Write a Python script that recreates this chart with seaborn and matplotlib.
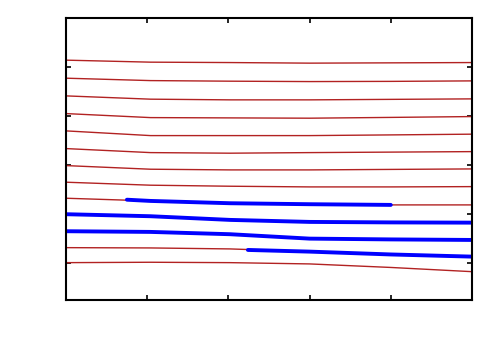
import numpy as np
import pandas as pd
import seaborn as sns
import matplotlib
matplotlib.use("Agg")
import matplotlib.pyplot as plt

# x positions where curves were read
x_read = [0.0, 1.04, 2.02, 3.0, 4.0, 5.0]

# thin red curves (top to bottom)
red_1 = [4.137, 4.096, 4.088, 4.076, 4.082, 4.088]
red_2 = [3.769, 3.720, 3.708, 3.700, 3.704, 3.714]
red_3 = [3.408, 3.341, 3.327, 3.327, 3.337, 3.347]
red_4 = [3.047, 2.965, 2.959, 2.953, 2.969, 2.986]
red_5 = [2.694, 2.598, 2.598, 2.598, 2.612, 2.627]
red_6 = [2.333, 2.251, 2.239, 2.251, 2.261, 2.271]
red_7 = [1.986, 1.912, 1.898, 1.898, 1.908, 1.918]
red_8 = [1.647, 1.586, 1.565, 1.551, 1.551, 1.557]
red_9 = [1.320, 1.265, 1.218, 1.198, 1.184, 1.184]
red_10 = [0.994, 0.953, 0.878, 0.837, 0.827, 0.822]
red_11 = [0.647, 0.633, 0.586, 0.496, 0.480, 0.469]
red_12 = [0.312, 0.306, 0.286, 0.231, 0.173, 0.129]
red_13 = [0.006, 0.014, 0.006, -0.020, -0.092, -0.178]

# thick blue segments
blue_a_x = [0.75, 1.04, 2.02, 3.0, 4.0]
blue_a_y = [1.290, 1.265, 1.218, 1.198, 1.184]
blue_b_x = [0.0, 1.04, 2.02, 3.0, 4.0, 5.0]
blue_b_y = [0.994, 0.953, 0.878, 0.837, 0.827, 0.822]
blue_c_x = [0.0, 1.04, 2.02, 3.0, 4.0, 5.0]
blue_c_y = [0.647, 0.633, 0.586, 0.496, 0.480, 0.469]
blue_d_x = [2.24, 3.0, 4.0, 5.0]
blue_d_y = [0.265, 0.231, 0.173, 0.129]

x_ticks = [1, 2, 3, 4]
y_ticks = [0, 1, 2, 3, 4]

reds = [red_1, red_2, red_3, red_4, red_5, red_6, red_7, red_8, red_9,
        red_10, red_11, red_12, red_13]
red_df = pd.concat([pd.DataFrame({"x": x_read, "y": r, "line": i})
                    for i, r in enumerate(reds)], ignore_index=True)
blues = [(blue_a_x, blue_a_y), (blue_b_x, blue_b_y),
         (blue_c_x, blue_c_y), (blue_d_x, blue_d_y)]
blue_df = pd.concat([pd.DataFrame({"x": bx, "y": by, "line": i})
                     for i, (bx, by) in enumerate(blues)], ignore_index=True)

sns.set_style("white")
fig = plt.figure(figsize=(5, 3.5), dpi=100)
ax = fig.add_axes([0.132, 0.143, 0.812, 0.806])

sns.lineplot(data=red_df, x="x", y="y", units="line", estimator=None,
             sort=False, color="#b22222", linewidth=1.0, ax=ax)
sns.lineplot(data=blue_df, x="x", y="y", units="line", estimator=None,
             sort=False, color="#0000ff", linewidth=2.8, ax=ax)

ax.set_xlim(0, 5)
ax.set_ylim(-0.755, 5.0)
ax.set_xticks(x_ticks)
ax.set_yticks(y_ticks)
ax.set_xticklabels([])
ax.set_yticklabels([])
ax.set_xlabel("")
ax.set_ylabel("")
ax.tick_params(direction="in", length=3.5, width=1.2, color="black",
               top=True, right=True, bottom=True, left=True)
for s in ax.spines.values():
    s.set_color("black")
    s.set_linewidth(1.5)

fig.savefig("out.png", dpi=100)
